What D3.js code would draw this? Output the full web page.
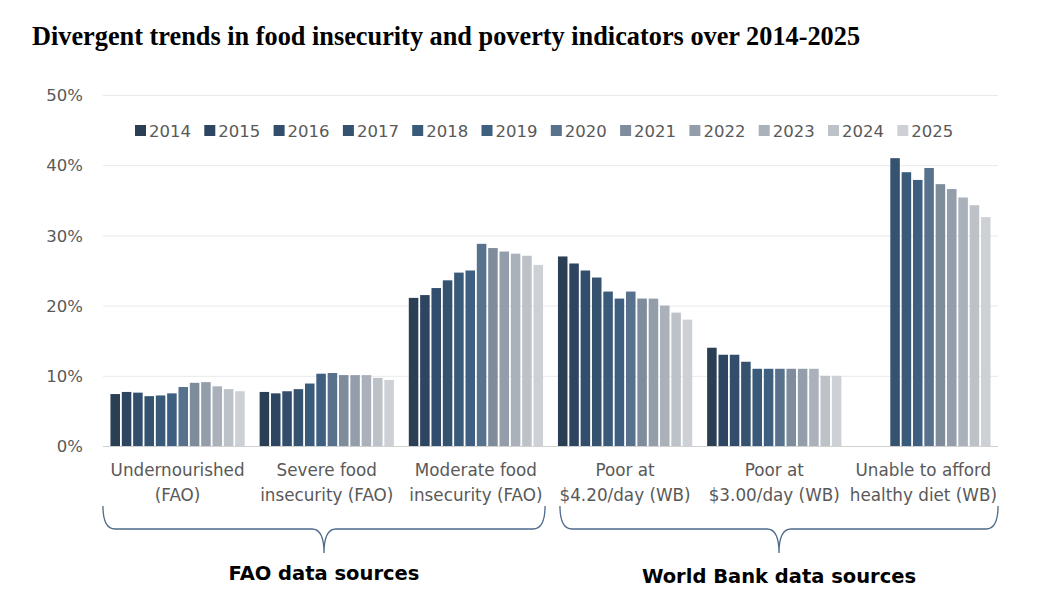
<!DOCTYPE html>
<html><head><meta charset="utf-8">
<script src="https://cdn.jsdelivr.net/npm/d3@7"></script>
<style>body{margin:0;background:#fff;}svg{display:block;}</style>
</head><body><svg id="c" width="1039" height="601"></svg>
<script>
const years = ["2014","2015","2016","2017","2018","2019","2020","2021","2022","2023","2024","2025"];
const categories = [
  ["Undernourished","(FAO)"],
  ["Severe food","insecurity (FAO)"],
  ["Moderate food","insecurity (FAO)"],
  ["Poor at","$4.20/day (WB)"],
  ["Poor at","$3.00/day (WB)"],
  ["Unable to afford","healthy diet (WB)"]
];
const undernourished = [7.4,7.7,7.6,7.1,7.2,7.5,8.4,9.0,9.1,8.5,8.1,7.8];
const severeFood     = [7.7,7.5,7.8,8.1,8.9,10.3,10.4,10.1,10.1,10.1,9.7,9.4];
const moderateFood   = [21.1,21.5,22.5,23.6,24.7,25.0,28.8,28.2,27.7,27.4,27.1,25.8];
const poor420        = [27,26,25,24,22,21,22,21,21,20,19,18];
const poor300        = [14,13,13,12,11,11,11,11,11,11,10,10];
const healthyDiet    = [null,null,null,41.0,39.0,37.9,39.6,37.3,36.6,35.4,34.3,32.6];
const seriesByCat = [undernourished,severeFood,moderateFood,poor420,poor300,healthyDiet];
const yTicks = [0,10,20,30,40,50];
const colors = ["#2a3e54","#2e4561","#324e6c","#35526f","#3a5a7a","#3e5f80","#58718c","#7e8c9c","#949eab","#aab1bb","#bdc1c8","#cdd0d5"];
const groups = [
  {label:"FAO data sources", from:0, to:2},
  {label:"World Bank data sources", from:3, to:5}
];

const SANS = "'DejaVu Sans',Verdana,sans-serif";
const svg = d3.select("#c");
const L=103, R=998, T=95, B=446;
const y = d3.scaleLinear().domain([0,50]).range([B,T]);
const x0 = d3.scaleBand().domain(d3.range(categories.length)).range([L,R]).paddingInner(0.1).paddingOuter(0.05);
const x1 = d3.scaleBand().domain(years).range([0,x0.bandwidth()]).paddingInner(0.16);
const color = d3.scaleOrdinal().domain(years).range(colors);

svg.append("text").attr("x",32).attr("y",45).attr("font-family","'Liberation Serif','Times New Roman',serif")
  .attr("font-weight","bold").attr("font-size",26.3).attr("fill","#000")
  .text("Divergent trends in food insecurity and poverty indicators over 2014-2025");

// grid
const yAxis = d3.axisLeft(y).tickValues(yTicks).tickFormat(d=>d+"%").tickSize(-(R-L)).tickPadding(20);
const ga = svg.append("g").attr("transform",`translate(${L},0)`).call(yAxis);
ga.select(".domain").remove();
ga.selectAll(".tick line").attr("stroke",d=>d===0?"#d0d0d0":"#e9e9e9").attr("stroke-width",1);
ga.selectAll(".tick text").attr("font-family",SANS).attr("font-size",16.5).attr("fill","#595959").attr("dy","0.35em");

// bars
const g = svg.append("g");
categories.forEach((c,ci)=>{
  const data = years.map((yr,i)=>({yr, v:seriesByCat[ci][i]})).filter(d=>d.v!=null);
  g.append("g").attr("transform",`translate(${x0(ci)},0)`)
   .selectAll("rect").data(data).join("rect")
   .attr("x",d=>x1(d.yr)).attr("width",x1.bandwidth())
   .attr("y",d=>y(d.v)).attr("height",d=>y(0)-y(d.v))
   .attr("fill",d=>color(d.yr));
});

// category labels
categories.forEach((c,ci)=>{
  const cx = x0(ci)+x0.bandwidth()/2;
  const t = svg.append("text").attr("x",cx).attr("text-anchor","middle")
    .attr("font-family",SANS).attr("font-size",16.8).attr("fill","#595959");
  t.append("tspan").attr("x",cx).attr("y",476).text(c[0]);
  t.append("tspan").attr("x",cx).attr("y",501).text(c[1]);
});

// legend
const lg = svg.append("g");
years.forEach((yr,i)=>{
  const lx = 135 + i*69.3;
  lg.append("rect").attr("x",lx).attr("y",125).attr("width",11).attr("height",11).attr("fill",color(yr));
  lg.append("text").attr("x",lx+14).attr("y",136.5).attr("font-family",SANS)
    .attr("font-size",16.5).attr("fill","#595959").text(yr);
});

// braces
groups.forEach((gr,gi)=>{
  const a = x0(gr.from) + (gi===0?-7.5:2), b = x0(gr.to)+x0.bandwidth() + (gi===0?2:7.5);
  const m = (a+b)/2;
  const top=506, mid=529, tip=553, r=6;
  const p = `M${a},${top} Q${a},${mid} ${a+r*2},${mid} L${m-r*2},${mid} Q${m},${mid} ${m},${tip} Q${m},${mid} ${m+r*2},${mid} L${b-r*2},${mid} Q${b},${mid} ${b},${top}`;
  svg.append("path").attr("d",p).attr("fill","none").attr("stroke","#4d6b8a").attr("stroke-width",1.3);
  svg.append("text").attr("x",m).attr("y",gi===0?580:583).attr("text-anchor","middle")
    .attr("font-family",SANS).attr("font-weight","bold").attr("font-size",19.5).attr("fill","#000")
    .text(gr.label);
});
</script></body></html>
